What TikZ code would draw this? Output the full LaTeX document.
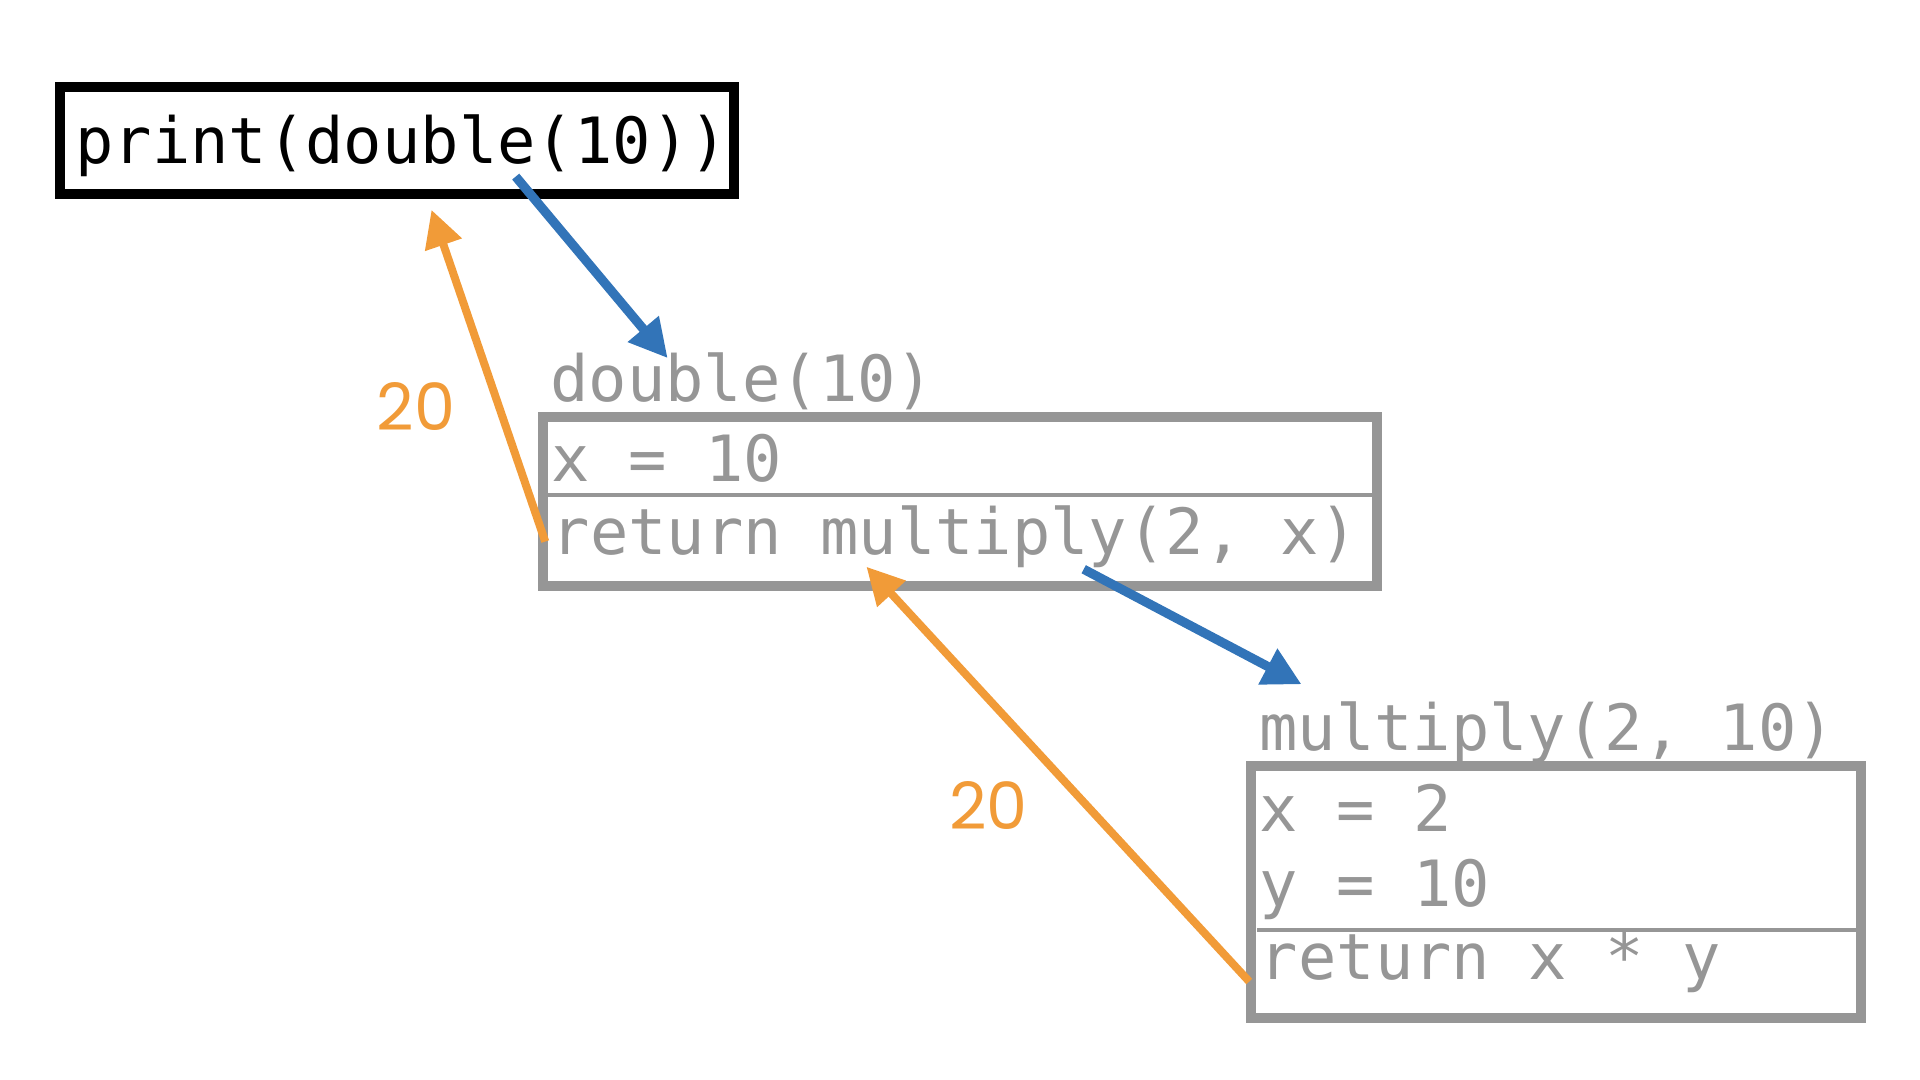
\documentclass[tikz,border=0pt]{standalone}
\usepackage{fontspec}
\setmonofont{DejaVu Sans Mono}
\newfontfamily\labelfont{Poppins}
\usetikzlibrary{arrows.meta}
\definecolor{framegray}{RGB}{150,150,150}
\definecolor{callblue}{RGB}{50,116,184}
\definecolor{retorange}{RGB}{241,155,56}
\tikzset{
  codetext/.style={inner sep=0pt, anchor=base west, font=\ttfamily\fontsize{51.8}{52}\selectfont},
  graytext/.style={codetext, text=framegray},
  framebox/.style={draw=framegray, line width=8.1pt, inner sep=0pt},
  callarrow/.style={draw=callblue, line width=7.5pt, -{Triangle[length=31pt,width=31pt]}},
  retarrow/.style={draw=retorange, line width=6.5pt, -{Triangle[length=30pt,width=30pt]}},
  retlabel/.style={inner sep=0pt, text=retorange, font=\labelfont\fontsize{53}{53}\selectfont},
  divider/.style={draw=framegray, line width=3.5pt}
}
\begin{document}
\begin{tikzpicture}[x=1pt,y=-1pt]
\useasboundingbox (0,0) rectangle (1560,877.5);
% top call
\node[draw=black, line width=8.1pt, inner sep=0pt, minimum width=548pt, minimum height=87pt] (top) at (322.7,114.4) {};
\node[codetext] (toptext) at (61,133) {print(double(10))};
% double frame
\node[framebox, minimum width=677.6pt, minimum height=137pt] (dbl) at (779.7,407.6) {};
\node[graytext] (dbltitle) at (447,326.4) {double(10)};
\node[graytext] (dblx) at (448,391.4) {x = 10};
\node[graytext] (dblret) at (448,450.9) {return multiply(2, x)};
\coordinate (d1a) at (441,402.2);
\coordinate (d1b) at (1118.5,402.2);
\draw[divider] (d1a) -- (d1b);
% multiply frame
\node[framebox, minimum width=495.9pt, minimum height=205.3pt] (mul) at (1264.1,724.8) {};
\node[graytext] (multitle) at (1023,609.4) {multiply(2, 10)};
\node[graytext] (mulx) at (1023.5,675.7) {x = 2};
\node[graytext] (muly) at (1023.5,736.7) {y = 10};
\node[graytext] (mulret) at (1023.5,796.2) {return x * y};
\coordinate (d2a) at (1021.5,755.6);
\coordinate (d2b) at (1512,755.6);
\draw[divider] (d2a) -- (d2b);
% arrows
\coordinate (b1s) at (419,143.5);
\coordinate (b1e) at (542.5,291);
\coordinate (b2s) at (880.5,462.5);
\coordinate (b2e) at (1057.5,556);
\coordinate (o1s) at (443,440);
\coordinate (o1e) at (350.6,170.5);
\coordinate (o2s) at (1015,797.5);
\coordinate (o2e) at (704,460.5);
\draw[callarrow] (b1s) -- (b1e);
\draw[callarrow] (b2s) -- (b2e);
\draw[retarrow] (o1s) -- (o1e);
\draw[retarrow] (o2s) -- (o2e);
\node[retlabel] (lab1) at (338,330) {20};
\node[retlabel] (lab2) at (803,654.5) {20};
\end{tikzpicture}
\end{document}
